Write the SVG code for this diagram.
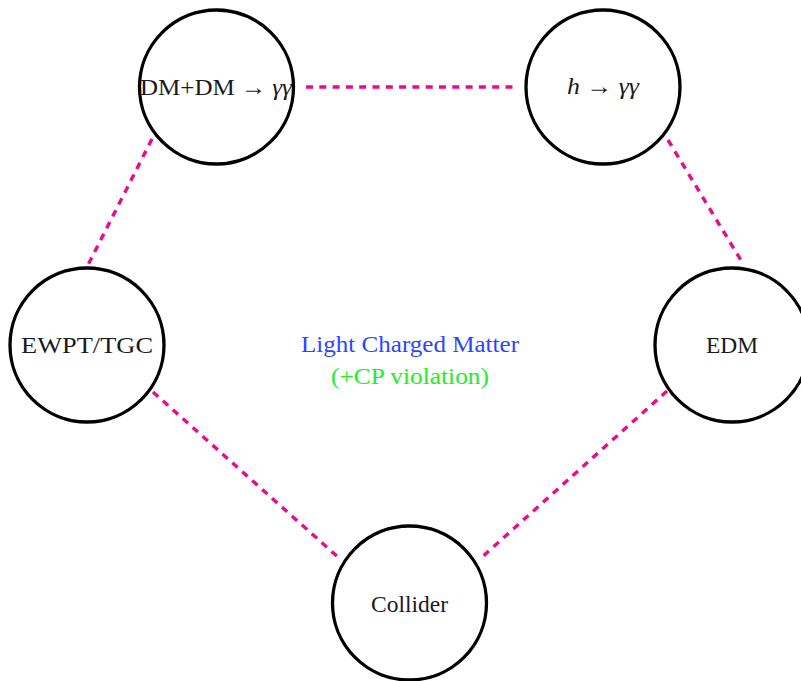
<svg xmlns="http://www.w3.org/2000/svg" width="801" height="681" viewBox="0 0 801 681">
<style>
.node{fill:none;stroke:#000;stroke-width:3.3}
.lbl{font-family:"Liberation Serif","DejaVu Serif",serif;font-size:24px;fill:#1a1a1a;text-anchor:middle}
.it{font-style:italic}
.edge{stroke:#ea0a8c;stroke-width:3.4;stroke-dasharray:7 6.3;fill:none}
.c1{font-family:"Liberation Serif","DejaVu Serif",serif;font-size:23px;text-anchor:middle}
</style>
<rect width="801" height="681" fill="#fff"/>
<g id="connectors">
<line class="edge" x1="306" y1="87" x2="518" y2="87"/>
<line class="edge" x1="152" y1="139" x2="88" y2="265"/>
<line class="edge" x1="668" y1="140" x2="742" y2="262"/>
<line class="edge" x1="667" y1="391" x2="481" y2="558"/>
<line class="edge" x1="153" y1="392" x2="339" y2="558"/>
</g>
<g id="dm">
<circle class="node" cx="216.5" cy="87" r="77"/>
<text class="lbl" x="216" y="95" textLength="152" lengthAdjust="spacingAndGlyphs">DM+DM → <tspan class="it">γγ</tspan></text>
</g>
<g id="higgs">
<circle class="node" cx="603" cy="87" r="77"/>
<text class="lbl" x="603" y="94" textLength="72" lengthAdjust="spacingAndGlyphs"><tspan class="it">h</tspan> → <tspan class="it">γγ</tspan></text>
</g>
<g id="ewpt">
<circle class="node" cx="87" cy="345" r="77"/>
<text class="lbl" x="87" y="353" textLength="132" lengthAdjust="spacingAndGlyphs">EWPT/TGC</text>
</g>
<g id="edm">
<circle class="node" cx="732" cy="345" r="77"/>
<text class="lbl" x="732" y="353" textLength="52" lengthAdjust="spacingAndGlyphs">EDM</text>
</g>
<g id="collider">
<circle class="node" cx="409.5" cy="603" r="77"/>
<text class="lbl" x="409.5" y="612" textLength="77" lengthAdjust="spacingAndGlyphs">Collider</text>
</g>
<g id="center">
<text class="c1" x="410" y="352" fill="#2b45ff" textLength="218" lengthAdjust="spacingAndGlyphs">Light Charged Matter</text>
<text class="c1" x="410" y="384" fill="#22ee22" textLength="158" lengthAdjust="spacingAndGlyphs">(+CP violation)</text>
</g>
</svg>
